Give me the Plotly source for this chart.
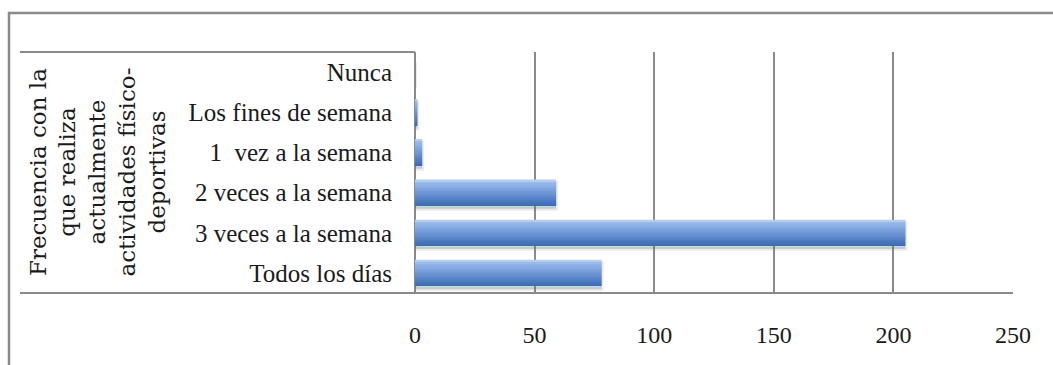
import plotly.graph_objects as go

# Categories (bottom to top) and counts
categorias = [
    "Todos los días",
    "3 veces a la semana",
    "2 veces a la semana",
    "1  vez a la semana",
    "Los fines de semana",
    "Nunca",
]
frecuencias = [78, 205, 59, 3, 1, 0]
x_ticks = [0, 50, 100, 150, 200, 250]

titulo_eje = "Frecuencia con la<br>que realiza<br>actualmente<br>actividades físico-<br>deportivas"

W, H = 1053, 365
ML, MR, MT, MB = 415, 40, 52, 72
pw, ph = W - ML - MR, H - MT - MB


def px_x(x):
    return (x - ML) / pw


def px_y(y):
    return (H - MB - y) / ph


fig = go.Figure()

bar_w = 0.65
# soft drop shadow under each bar
fig.add_trace(go.Bar(
    y=categorias, x=frecuencias, orientation="h",
    width=bar_w, offset=-bar_w / 2 - 0.08,
    marker=dict(color="rgba(110,110,110,0.28)",
                line=dict(color="rgba(110,110,110,0.12)", width=4)),
    hoverinfo="skip", showlegend=False,
))

# vertical gradient built from thin overlaid slices (dark bottom, light top)
n_slices = 16
c0 = (58, 107, 184)
c1 = (160, 192, 240)
for k in range(n_slices):
    t = k / (n_slices - 1)
    col = tuple(round(a + (b - a) * t) for a, b in zip(c0, c1))
    if k == n_slices - 1:
        col = (178, 206, 246)
    sw = bar_w / n_slices
    fig.add_trace(go.Bar(
        y=categorias, x=frecuencias, orientation="h",
        width=sw * 1.02, offset=-bar_w / 2 + k * sw,
        marker=dict(color="rgb(%d,%d,%d)" % col, line=dict(width=0)),
        hoverinfo="skip", showlegend=False,
    ))

grid_col = "#8a8a8a"
fig.update_layout(
    width=W, height=H,
    margin=dict(l=ML, r=MR, t=MT, b=MB),
    paper_bgcolor="white", plot_bgcolor="white",
    barmode="overlay",
    xaxis=dict(
        range=[0, 250], tickvals=x_ticks, ticktext=[str(v) for v in x_ticks],
        showgrid=True, gridcolor=grid_col, gridwidth=2,
        zeroline=True, zerolinecolor=grid_col, zerolinewidth=2,
        showline=False, ticks="", ticklabelstandoff=25,
        tickfont=dict(family="Liberation Serif", size=24, color="#1a1a1a"),
        fixedrange=True,
    ),
    yaxis=dict(
        categoryorder="array", categoryarray=categorias,
        showgrid=False, zeroline=False, showline=False, ticks="",
        ticklabelstandoff=22,
        tickfont=dict(family="Liberation Serif", size=25, color="#1a1a1a"),
        fixedrange=True,
    ),
    font=dict(family="Liberation Serif", color="#1a1a1a"),
)

line = dict(color=grid_col, width=2)
# outer chart frame
fig.add_shape(type="rect", xref="paper", yref="paper",
              x0=px_x(9), x1=px_x(1070), y0=px_y(400), y1=px_y(13),
              line=dict(color="#8a8a8a", width=2.5), layer="below")
# table-style lines framing the category labels
fig.add_shape(type="line", xref="paper", yref="paper",
              x0=px_x(20), x1=0, y0=1, y1=1, line=line)
fig.add_shape(type="line", xref="paper", yref="paper",
              x0=px_x(20), x1=1, y0=0, y1=0, line=line)

fig.add_annotation(
    text=titulo_eje, textangle=-90,
    xref="paper", yref="paper", x=px_x(97), y=0.5,
    xanchor="center", yanchor="middle", showarrow=False,
    font=dict(family="DejaVu Serif", size=23, color="#1a1a1a"),
    align="center",
)

fig.write_html("out.html")
